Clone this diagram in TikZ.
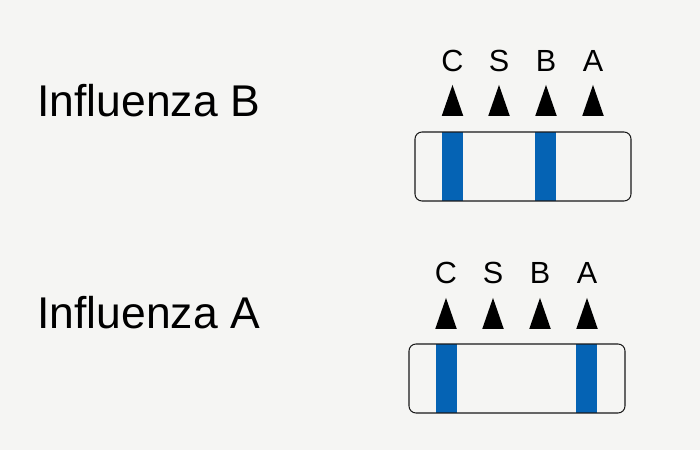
\documentclass[tikz,border=0pt]{standalone}
\usepackage{fontspec}
\setmainfont{Liberation Sans}
\usetikzlibrary{shapes.geometric}
\definecolor{paper}{HTML}{F5F5F3}
\definecolor{bandblue}{HTML}{0563B4}
\tikzset{
    title/.style={anchor=base west, inner sep=0pt, font=\fontsize{25.3}{30}\selectfont},
    letter/.style={inner sep=0pt, font=\fontsize{17.4}{20}\selectfont},
    marker/.style={isosceles triangle, isosceles triangle stretches, shape border rotate=90, fill=black, inner sep=0pt, minimum width=0.43cm, minimum height=0.62cm, anchor=apex},
    band/.style={rectangle, fill=bandblue, inner sep=0pt, minimum width=0.42cm, minimum height=1.38cm},
    strip/.style={rectangle, draw=black!90, line width=0.6pt, rounded corners=0.14cm, inner sep=0pt, minimum width=4.32cm, minimum height=1.38cm}
}

\begin{document}
\begin{tikzpicture}
        % Background
        \fill[paper] (0, 0) rectangle (14, 9);
        \useasboundingbox (0, 0) rectangle (14, 9);

        % Influenza B
        \node[title] (titleB) at (0.74, 6.68) {Influenza B};
        \node[letter] (cB) at (9.05, 7.78) {C};
        \node[letter] (sB) at (9.98, 7.78) {S};
        \node[letter] (bB) at (10.92, 7.78) {B};
        \node[letter] (aB) at (11.86, 7.78) {A};
        \node[marker] (m1B) at (9.05, 7.32) {};
        \node[marker] (m2B) at (9.98, 7.32) {};
        \node[marker] (m3B) at (10.92, 7.32) {};
        \node[marker] (m4B) at (11.86, 7.32) {};
        \node[band] (band1B) at (9.05, 5.67) {};
        \node[band] (band2B) at (10.91, 5.67) {};
        \node[strip] (stripB) at (10.46, 5.67) {};

        % Influenza A
        \node[title] (titleA) at (0.74, 2.44) {Influenza A};
        \node[letter] (cA) at (8.92, 3.54) {C};
        \node[letter] (sA) at (9.86, 3.54) {S};
        \node[letter] (bA) at (10.80, 3.54) {B};
        \node[letter] (aA) at (11.74, 3.54) {A};
        \node[marker] (m1A) at (8.92, 3.06) {};
        \node[marker] (m2A) at (9.86, 3.06) {};
        \node[marker] (m3A) at (10.80, 3.06) {};
        \node[marker] (m4A) at (11.74, 3.06) {};
        \node[band] (band1A) at (8.93, 1.43) {};
        \node[band] (band2A) at (11.73, 1.43) {};
        \node[strip] (stripA) at (10.34, 1.43) {};
    \end{tikzpicture}
\end{document}
